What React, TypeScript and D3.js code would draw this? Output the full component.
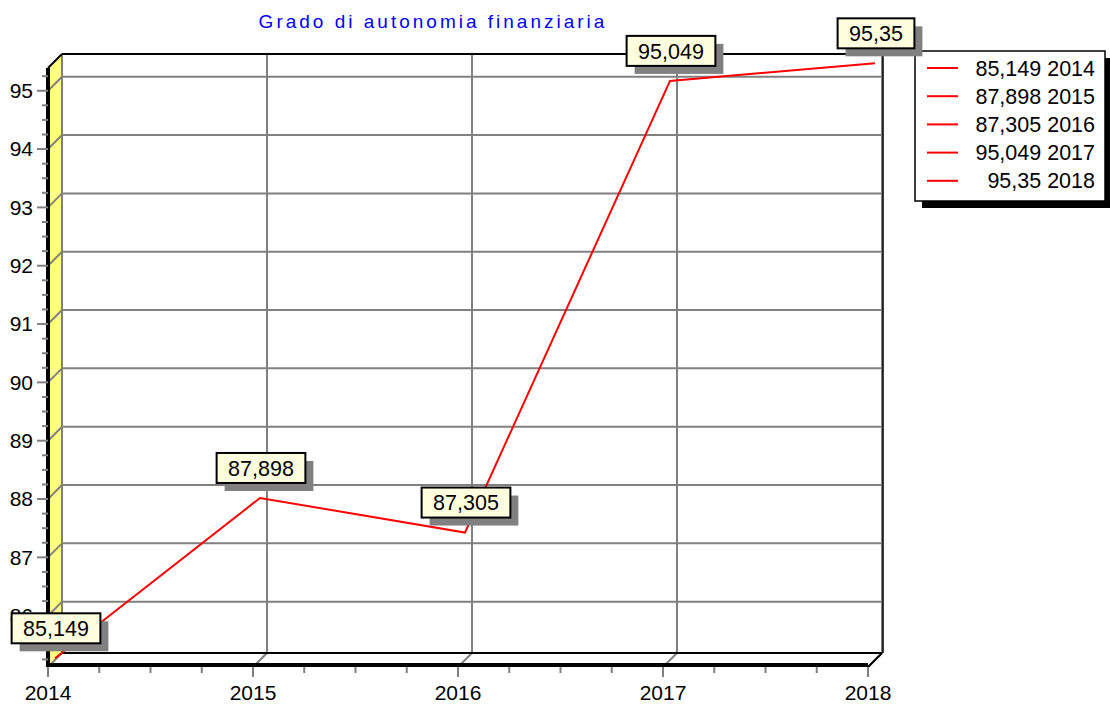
import React from 'react';
import * as d3 from 'd3';

const years = [2014, 2015, 2016, 2017, 2018];
const values = [85.149, 87.898, 87.305, 95.049, 95.35];
const valueLabels = ['85,149', '87,898', '87,305', '95,049', '95,35'];
const yTicks = [86, 87, 88, 89, 90, 91, 92, 93, 94, 95];
const title = 'Grado di autonomia finanziaria';

const W = 1110;
const H = 705;
const D = 14;
const FONT = "'Liberation Sans', Arial, Helvetica, sans-serif";

function measure(text: string, size: number) {
  const c = document.createElement('canvas').getContext('2d');
  if (!c) return text.length * size * 0.55;
  c.font = `${size}px ${FONT}`;
  return c.measureText(text).width;
}

export default function App() {
  const x = d3.scaleLinear().domain([2014, 2018]).range([48, 868]);
  const y = d3.scaleLinear().domain([85.12, 95.39]).range([667, 68]);
  const [y0, y1] = y.range();
  const [x0, x1] = x.range();

  const minorY = d3.range(Math.ceil(85.12 * 4), Math.floor(95.39 * 4) + 1).map((v) => v / 4).filter((v) => v % 1 !== 0);
  const minorX = d3.range(2014 * 4, 2018 * 4 + 1).map((v) => v / 4).filter((v) => v % 1 !== 0);

  const pts: [number, number][] = values.map((v, i) => [x(years[i]) + D / 2, y(v) - D / 2]);
  const line = d3.line()(pts) || '';

  const grid = '#808080';

  return (
    <svg width={W} height={H} style={{ position: 'absolute', left: 0, top: 0, background: '#fff' }} fontFamily={FONT}>
      <rect x={0} y={0} width={W} height={H} fill="#fff" />
      {/* title */}
      <text x={433} y={28} textAnchor="middle" fill="#0000ff" fontSize={19} letterSpacing={3}>{title}</text>

      {/* back plane */}
      <rect x={x0 + D} y={y1 - D} width={x1 - x0} height={y0 - y1} fill="#fff" />
      {/* left wall */}
      <polygon points={`${x0},${y1} ${x0 + D},${y1 - D} ${x0 + D},${y0 - D} ${x0},${y0}`} fill="#ffff80" />
      {/* floor */}
      <polygon points={`${x0},${y0} ${x0 + D},${y0 - D} ${x1 + D},${y0 - D} ${x1},${y0}`} fill="#fff" />

      {/* horizontal gridlines */}
      {yTicks.map((t) => (
        <g key={'gy' + t}>
          <line x1={x0} y1={y(t)} x2={x0 + D} y2={y(t) - D} stroke={grid} strokeWidth={2} />
          <line x1={x0 + D} y1={y(t) - D} x2={x1 + D} y2={y(t) - D} stroke={grid} strokeWidth={2} />
        </g>
      ))}
      {/* vertical gridlines */}
      {years.map((yr) => (
        <g key={'gx' + yr}>
          <line x1={x(yr)} y1={y0} x2={x(yr) + D} y2={y0 - D} stroke={grid} strokeWidth={2} />
          <line x1={x(yr) + D} y1={y0 - D} x2={x(yr) + D} y2={y1 - D} stroke={grid} strokeWidth={2} />
        </g>
      ))}

      {/* frame edges */}
      <line x1={x0 + D} y1={y1 - D} x2={x1 + D} y2={y1 - D} stroke="#000" strokeWidth={2} />
      <line x1={x0} y1={y1} x2={x0 + D} y2={y1 - D} stroke="#000" strokeWidth={2} />
      <line x1={x0 + D} y1={y0 - D} x2={x1 + D} y2={y0 - D} stroke="#000" strokeWidth={2} />
      <line x1={x1 + D + 1} y1={y1 - D} x2={x1 + D + 1} y2={y0 - D} stroke="#000" strokeWidth={1.5} />
      <line x1={x1} y1={y0} x2={x1 + D} y2={y0 - D} stroke="#000" strokeWidth={2} />
      <line x1={x0} y1={y1} x2={x0} y2={y0} stroke="#000" strokeWidth={4} />
      <line x1={x0} y1={y0 - 2} x2={x1} y2={y0 - 2} stroke="#000" strokeWidth={4} />

      {/* y ticks */}
      {yTicks.map((t) => (
        <line key={'ty' + t} x1={x0 - 11} y1={y(t)} x2={x0} y2={y(t)} stroke={grid} strokeWidth={2} />
      ))}
      {minorY.map((t) => (
        <line key={'my' + t} x1={x0 - 6} y1={y(t)} x2={x0} y2={y(t)} stroke={grid} strokeWidth={2} />
      ))}
      {yTicks.map((t) => (
        <text key={'ly' + t} x={33} y={y(t)} dy="0.35em" textAnchor="end" fontSize={21} fill="#000">{t}</text>
      ))}

      {/* x ticks */}
      {years.map((yr) => (
        <line key={'tx' + yr} x1={x(yr)} y1={y0} x2={x(yr)} y2={y0 + 10} stroke={grid} strokeWidth={2} />
      ))}
      {minorX.map((t) => (
        <line key={'mx' + t} x1={x(t)} y1={y0} x2={x(t)} y2={y0 + 6} stroke={grid} strokeWidth={2} />
      ))}
      {years.map((yr) => (
        <text key={'lx' + yr} x={x(yr)} y={700} textAnchor="middle" fontSize={21} fill="#000">{yr}</text>
      ))}

      {/* data line */}
      <path d={line} fill="none" stroke="#ff0000" strokeWidth={2} />

      {/* legend */}
      <rect x={922} y={58} width={190} height={150} fill="#000" />
      <rect x={915} y={51} width={190} height={150} fill="#fff" stroke="#000" strokeWidth={1.5} />
      {values.map((v, i) => (
        <g key={'lg' + i}>
          <line x1={927} x2={958} y1={68 + i * 28.2} y2={68 + i * 28.2} stroke="#ff0000" strokeWidth={2} />
          <text x={1095} y={68 + i * 28.2} dy="0.35em" textAnchor="end" fontSize={21.5} fill="#000">{`${valueLabels[i]} ${years[i]}`}</text>
        </g>
      ))}

      {/* data labels */}
      {pts.map(([px, py], i) => {
        const tw = measure(valueLabels[i], 21.5);
        const bw = tw + 23;
        const bh = 30;
        const cx = px + 1;
        const cy = py - 30;
        return (
          <g key={'dl' + i}>
            <rect x={cx - bw / 2 + 8} y={cy - bh / 2 + 8} width={bw} height={bh} fill="#808080" />
            <rect x={cx - bw / 2} y={cy - bh / 2} width={bw} height={bh} fill="#ffffe0" stroke="#000" strokeWidth={2} />
            <text x={cx} y={cy} dy="0.36em" textAnchor="middle" fontSize={21.5} fill="#000">{valueLabels[i]}</text>
          </g>
        );
      })}
    </svg>
  );
}
